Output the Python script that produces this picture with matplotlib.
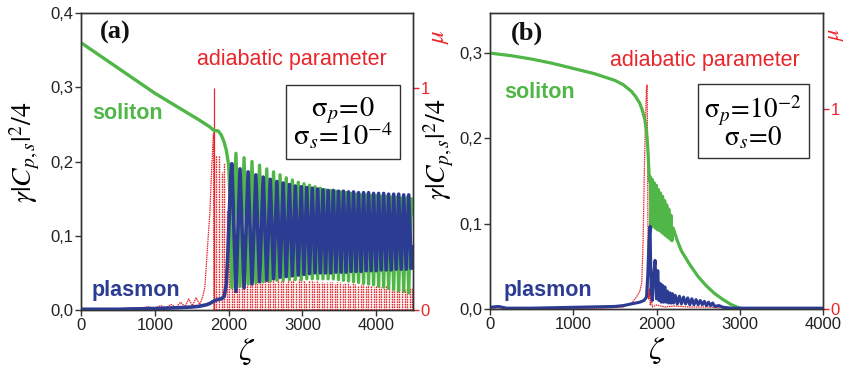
import numpy as np
import matplotlib
matplotlib.use("Agg")
import matplotlib.pyplot as plt

plt.rcParams['font.family'] = ['Liberation Sans', 'DejaVu Sans']
plt.rcParams['mathtext.fontset'] = 'stix'

GREEN = '#4fb647'
BLUE = '#2c3c92'
RED = '#e8262b'
DARK = '#333333'

# ---------------- panel (a) data ----------------
soliton_a_pre_z = [0, 250, 500, 750, 1000, 1250, 1400, 1600, 1740, 1800, 1860, 1900, 1940, 1970, 2000, 2020]
soliton_a_pre_v = [0.360, 0.343, 0.326, 0.309, 0.292, 0.277, 0.268, 0.256, 0.247, 0.242, 0.241, 0.236, 0.226, 0.215, 0.196, 0.150]

plasmon_a_pre_z = [0, 500, 1000, 1300, 1500, 1600, 1700, 1750, 1800, 1850, 1900, 1940, 1970, 1990, 2010, 2030]
plasmon_a_pre_v = [0.001, 0.001, 0.002, 0.003, 0.004, 0.005, 0.007, 0.009, 0.012, 0.014, 0.015, 0.018, 0.035, 0.075, 0.130, 0.180]

# oscillation region: positions of plasmon maxima (= soliton minima) and plasmon minima (= soliton maxima)
osc_a_max_z = [2045, 2155, 2265, 2370, 2470, 2565, 2655, 2740, 2825, 2905, 2985, 3060, 3135, 3208, 3280, 3350,
               3420, 3490, 3558, 3626, 3694, 3762, 3830, 3898, 3966, 4034, 4102, 4170, 4238, 4306, 4374, 4442]
osc_a_min_z = [2100, 2210, 2318, 2420, 2518, 2610, 2698, 2782, 2865, 2945, 3022, 3098, 3172, 3244, 3315, 3385,
               3455, 3524, 3592, 3660, 3728, 3796, 3864, 3932, 4000, 4068, 4136, 4204, 4272, 4340, 4408, 4476]
plasmon_a_max = [0.197, 0.190, 0.186, 0.182, 0.179, 0.176, 0.173, 0.171, 0.169, 0.167, 0.166, 0.165, 0.164, 0.163, 0.162, 0.161,
                 0.161, 0.160, 0.160, 0.159, 0.159, 0.158, 0.158, 0.158, 0.157, 0.157, 0.157, 0.156, 0.156, 0.156, 0.155, 0.155]
plasmon_a_min = [0.025, 0.030, 0.035, 0.038, 0.040, 0.042, 0.044, 0.045, 0.046, 0.047, 0.048, 0.049, 0.050, 0.050, 0.050, 0.050,
                 0.051, 0.051, 0.051, 0.052, 0.052, 0.052, 0.053, 0.053, 0.053, 0.054, 0.054, 0.054, 0.055, 0.055, 0.055, 0.056]
soliton_a_min = [0.030, 0.032, 0.035, 0.037, 0.038, 0.039, 0.040, 0.040, 0.041, 0.041, 0.041, 0.042, 0.042, 0.042, 0.042, 0.042,
                 0.042, 0.041, 0.040, 0.039, 0.038, 0.037, 0.036, 0.035, 0.034, 0.032, 0.031, 0.029, 0.028, 0.026, 0.025, 0.023]
soliton_a_max = [0.211, 0.205, 0.200, 0.195, 0.190, 0.186, 0.182, 0.178, 0.175, 0.172, 0.170, 0.168, 0.166, 0.164, 0.162, 0.161,
                 0.160, 0.159, 0.158, 0.157, 0.156, 0.155, 0.155, 0.154, 0.154, 0.153, 0.153, 0.152, 0.152, 0.151, 0.151, 0.150]
end_a_z = 4500
soliton_a_end = 0.130
plasmon_a_end = 0.085

mu_a_line_z = [0, 500, 700, 800, 900, 1000, 1080, 1150, 1220, 1290, 1350, 1410, 1460, 1510, 1560, 1610, 1650,
               1680, 1715, 1746, 1774, 1797, 1800, 4500]
mu_a_line_v = [0, 0.003, 0.010, 0.005, 0.015, 0.008, 0.020, 0.010, 0.025, 0.012, 0.035, 0.015, 0.050, 0.020, 0.055, 0.025, 0.060,
               0.105, 0.285, 0.435, 0.660, 0.800, 0.0, 0.0]
mu_a_main_z = [1800]
mu_a_main_v = [1.0]
mu_a_spike_z = [1835, 1870, 1905, 1940, 1975, 2010, 2040, 2075, 2110, 2145, 2180, 2215, 2250, 2285, 2320, 2355, 2390,
                2425, 2460, 2495, 2530, 2565, 2600, 2635, 2670, 2705, 2740, 2775, 2810, 2845, 2880, 2915, 2950, 2985,
                3020, 3055, 3090, 3125, 3160, 3195, 3230, 3265, 3300, 3335, 3370, 3405, 3440, 3475, 3510, 3545, 3580,
                3615, 3650, 3685, 3720, 3755, 3790, 3825, 3860, 3895, 3930, 3965, 4000, 4035, 4070, 4105, 4140, 4175,
                4210, 4245, 4280, 4315, 4350, 4385, 4420, 4455, 4490]
mu_a_spike_v = [0.70, 0.70, 0.62, 0.66, 0.45, 0.30, 0.12, 0.25, 0.30, 0.15, 0.37, 0.20, 0.26, 0.14, 0.22, 0.15, 0.20,
                0.14, 0.18, 0.13, 0.17, 0.13, 0.16, 0.12, 0.15, 0.13, 0.15, 0.12, 0.14, 0.13, 0.14, 0.12, 0.14, 0.13,
                0.135, 0.12, 0.135, 0.13, 0.125, 0.13, 0.12, 0.128, 0.12, 0.127, 0.125, 0.126, 0.118, 0.125, 0.124, 0.115,
                0.122, 0.121, 0.112, 0.12, 0.119, 0.11, 0.117, 0.116, 0.108, 0.114, 0.113, 0.105, 0.111, 0.11, 0.104,
                0.108, 0.107, 0.1, 0.105, 0.104, 0.098, 0.102, 0.101, 0.096, 0.1, 0.099, 0.098]

# ---------------- panel (b) data ----------------
soliton_b_z = [0, 250, 500, 750, 1000, 1250, 1500, 1600, 1700, 1750, 1800, 1830, 1860, 1880, 1895, 1905, 1915,
               1925, 1935, 1948, 1960, 1972, 1985, 1998, 2010, 2023, 2035, 2048, 2060, 2073, 2085, 2098, 2110,
               2123, 2135, 2148, 2160, 2173, 2185, 2200, 2250, 2300, 2400, 2500, 2600, 2700, 2800, 2900, 3000,
               3100, 4000]
soliton_b_v = [0.300, 0.297, 0.293, 0.288, 0.282, 0.276, 0.268, 0.263, 0.255, 0.249, 0.241, 0.233, 0.222, 0.208, 0.190, 0.170, 0.150,
               0.155, 0.095, 0.152, 0.098, 0.148, 0.095, 0.145, 0.093, 0.140, 0.092, 0.136, 0.090, 0.132, 0.088, 0.127, 0.086,
               0.122, 0.084, 0.117, 0.082, 0.110, 0.080, 0.095, 0.080, 0.068, 0.052, 0.038, 0.027, 0.018, 0.011, 0.005, 0.001,
               0.0, 0.0]

plasmon_b_z = [0, 100, 200, 500, 1000, 1500, 1600, 1700, 1800, 1850, 1880, 1895, 1910, 1923, 1935, 1950, 1965, 1983,
               2000, 2015, 2030, 2043, 2058, 2070, 2085, 2100, 2115, 2130, 2145, 2160, 2175, 2190, 2205, 2225, 2250,
               2275, 2300, 2325, 2350, 2375, 2400, 2425, 2450, 2475, 2500, 2525, 2550, 2575, 2600, 2625, 2650, 2675,
               2700, 2750, 2800, 2900, 3000, 4000]
plasmon_b_v = [0.002, 0.003, 0.001, 0.001, 0.002, 0.003, 0.004, 0.006, 0.008, 0.010, 0.014, 0.040, 0.080, 0.097, 0.020, 0.010, 0.040, 0.057,
               0.012, 0.045, 0.010, 0.030, 0.008, 0.028, 0.008, 0.026, 0.008, 0.021, 0.007, 0.019, 0.007, 0.018, 0.007, 0.016, 0.006,
               0.015, 0.006, 0.014, 0.006, 0.013, 0.005, 0.012, 0.005, 0.011, 0.005, 0.010, 0.005, 0.009, 0.004, 0.008, 0.004, 0.007,
               0.003, 0.004, 0.002, 0.001, 0.001, 0.001]

mu_b_z = [0, 500, 1000, 1400, 1600, 1700, 1760, 1800, 1823, 1840, 1851, 1862, 1872, 1880, 1887, 1893, 1898, 1905,
          1915, 1925, 1935, 1950, 2000, 2100, 2200, 2400, 2600, 2800, 3000, 4000]
mu_b_v = [0, 0, 0.002, 0.005, 0.010, 0.030, 0.060, 0.090, 0.130, 0.350, 0.630, 0.850, 1.000, 1.100, 1.120, 0.800, 0.300, 0.050,
          0.100, 0.020, 0.060, 0.010, 0.020, 0.010, 0.015, 0.010, 0.010, 0.005, 0, 0]

# ---------------- ticks / labels ----------------
y_ticks_a = [0.0, 0.1, 0.2, 0.3, 0.4]
y_ticks_b = [0.0, 0.1, 0.2, 0.3]
x_ticks_a = [0, 1000, 2000, 3000, 4000]
x_ticks_b = [0, 1000, 2000, 3000, 4000]
mu_ticks = [0, 1]


def comma(v):
    return f"{v:.1f}".replace('.', ',')


def interleave(a, b):
    return list(np.column_stack((a, b)).ravel())


fig = plt.figure(figsize=(8.49, 3.69), dpi=100)
axA = fig.add_axes([81 / 849, 1 - 310 / 369, 332 / 849, 297 / 369])
axB = fig.add_axes([490 / 849, 1 - 309 / 369, 333 / 849, 296 / 369])

TICKFS = 12


def style_axes(ax, ax2, xlim, ylim, mulim, xt, yt):
    ax.set_xlim(*xlim)
    ax.set_ylim(*ylim)
    ax2.set_ylim(*mulim)
    ax.set_xticks(xt)
    ax.set_xticklabels([str(t) for t in xt])
    ax.set_yticks(yt)
    ax.set_yticklabels([comma(t) for t in yt])
    ax2.set_yticks(mu_ticks)
    ax2.set_yticklabels([str(t) for t in mu_ticks])
    ax.tick_params(direction='out', length=4, width=1, color=DARK, labelsize=TICKFS, pad=1.5, labelcolor='#222222')
    ax2.tick_params(axis='y', direction='out', length=4, width=1, color=RED, labelcolor=RED, labelsize=TICKFS, pad=1.5)
    for a in (ax, ax2):
        for s in a.spines.values():
            s.set_color(DARK)
            s.set_linewidth(1.0)
    ax.set_zorder(ax2.get_zorder() + 1)
    ax.patch.set_visible(False)
    ax.set_xlabel(r'$\zeta$', fontsize=23, labelpad=3)
    ax.set_ylabel(r'$\gamma|C_{p,s}|^{2}/4$', fontsize=20)


# ---- panel (a)
axA2 = axA.twinx()
style_axes(axA, axA2, (0, 4500), (0, 0.4), (0, 1.338), x_ticks_a, y_ticks_a)
axA.yaxis.set_label_coords(-0.118, 0.53)

dot = (0, (1.2, 0.6))
axA2.plot(mu_a_line_z, mu_a_line_v, color=RED, lw=0.9, ls=dot)
axA2.vlines(mu_a_spike_z, 0, mu_a_spike_v, colors=RED, lw=1.0, linestyles=[dot])
axA2.vlines(mu_a_main_z, 0, mu_a_main_v, colors=RED, lw=0.9)

sol_a_z = soliton_a_pre_z + interleave(osc_a_max_z, osc_a_min_z) + [end_a_z]
sol_a_v = soliton_a_pre_v + interleave(soliton_a_min, soliton_a_max) + [soliton_a_end]
pla_a_z = plasmon_a_pre_z + interleave(osc_a_max_z, osc_a_min_z) + [end_a_z]
pla_a_v = plasmon_a_pre_v + interleave(plasmon_a_max, plasmon_a_min) + [plasmon_a_end]
axA.plot(sol_a_z, sol_a_v, color=GREEN, lw=2.4, solid_joinstyle='round')
axA.plot(pla_a_z, pla_a_v, color=BLUE, lw=2.6, solid_joinstyle='round')

axA.text(0.102, 0.933, '(a)', transform=axA.transAxes, fontsize=19, fontweight='bold',
         family='Liberation Serif', ha='center', va='center', color='#111111')
axA.text(0.033, 0.663, 'soliton', transform=axA.transAxes, fontsize=15.5, fontweight='bold',
         color=GREEN, ha='left', va='center')
axA.text(0.033, 0.067, 'plasmon', transform=axA.transAxes, fontsize=15.5, fontweight='bold',
         color=BLUE, ha='left', va='center')
axA.text(0.634, 0.842, 'adiabatic parameter', transform=axA.transAxes, fontsize=15.5,
         color=RED, ha='center', va='center')
axA.text(0.79, 0.627, r'$\mathrm{\sigma}_p\!=\!0$' + '\n' + r'$\mathrm{\sigma}_s\!=\!10^{-4}$',
         transform=axA.transAxes, fontsize=20.5, ha='center', va='center', linespacing=0.8,
         bbox=dict(boxstyle='square,pad=0.25', fc='white', ec=DARK, lw=1.0))

# ---- panel (b)
axB2 = axB.twinx()
style_axes(axB, axB2, (0, 4000), (0, 0.347), (0, 1.48), x_ticks_b, y_ticks_b)
axB.yaxis.set_label_coords(-0.102, 0.54)

axB2.plot(mu_b_z, mu_b_v, color=RED, lw=0.9, ls=dot)
axB.plot(soliton_b_z, soliton_b_v, color=GREEN, lw=2.3, solid_joinstyle='round')
axB.plot(plasmon_b_z, plasmon_b_v, color=BLUE, lw=2.2, solid_joinstyle='round')

axB.text(0.11, 0.932, '(b)', transform=axB.transAxes, fontsize=19, fontweight='bold',
         family='Liberation Serif', ha='center', va='center', color='#111111')
axB.text(0.042, 0.73, 'soliton', transform=axB.transAxes, fontsize=15.5, fontweight='bold',
         color=GREEN, ha='left', va='center')
axB.text(0.042, 0.064, 'plasmon', transform=axB.transAxes, fontsize=15.5, fontweight='bold',
         color=BLUE, ha='left', va='center')
axB.text(0.646, 0.841, 'adiabatic parameter', transform=axB.transAxes, fontsize=15.5,
         color=RED, ha='center', va='center')
axB.text(0.79, 0.630, r'$\mathrm{\sigma}_p\!=\!10^{-2}$' + '\n' + r'$\mathrm{\sigma}_s\!=\!0$',
         transform=axB.transAxes, fontsize=19.5, ha='center', va='center', linespacing=0.8,
         bbox=dict(boxstyle='square,pad=0.25', fc='white', ec=DARK, lw=1.0))

# mu labels
fig.text(439 / 849, 1 - 37 / 369, r'$\mu$', color=RED, fontsize=18, rotation=90, ha='center', va='center')
fig.text(836 / 849, 1 - 34 / 369, r'$\mu$', color=RED, fontsize=16, rotation=90, ha='center', va='center')

fig.savefig('out.png', dpi=100)
